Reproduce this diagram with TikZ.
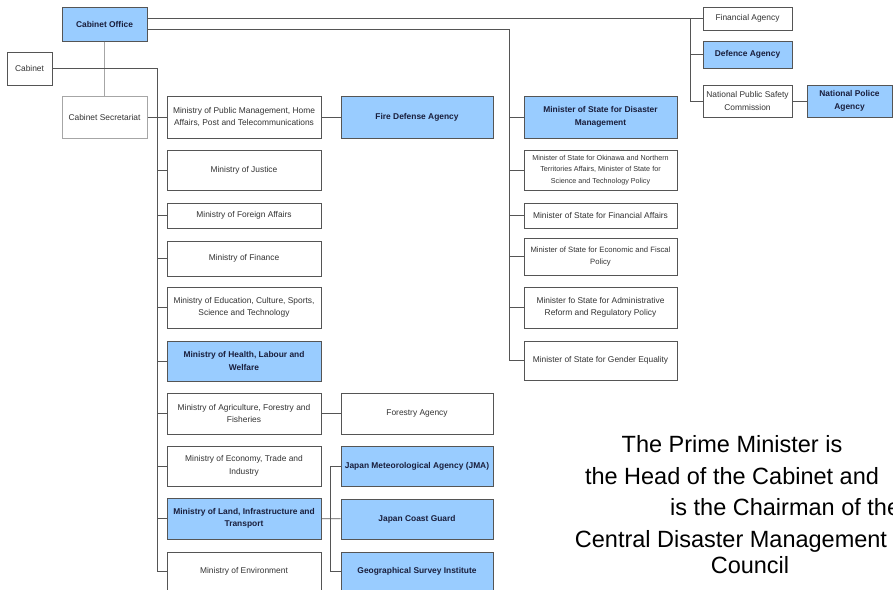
\documentclass[tikz,border=0pt]{standalone}
\usepackage{fontspec}
\setmainfont{Liberation Sans}
\definecolor{orgblue}{RGB}{153,204,255}
\definecolor{linegray}{RGB}{85,85,85}
\definecolor{boldnavy}{RGB}{25,30,60}

\begin{document}
\begin{tikzpicture}[x=1pt,y=-1pt,font=\fontsize{8.4}{12.5}\selectfont,
  box/.style={draw=linegray, line width=1pt, fill=white, align=center, inner sep=1pt, text=black!80},
  bluebox/.style={box, fill=orgblue, font=\fontsize{8.4}{12.5}\selectfont\bfseries, text=boldnavy},
  ministry/.style={minimum width=154pt},
  agency/.style={minimum width=152pt},
  minister/.style={minimum width=153pt},
  link/.style={draw=linegray, line width=0.9pt},
  note/.style={font=\fontsize{23.5}{28}\selectfont, inner sep=0pt, text=black}]

\useasboundingbox (0,0) rectangle (893,589);
\fill[white] (0,0) rectangle (893,589);

\node[bluebox, minimum width=85pt, minimum height=34pt] (office) at (104.5,24) {Cabinet Office};
\node[box, minimum width=45pt, minimum height=33pt] (cabinet) at (29.5,68.5) {Cabinet};
\node[box, draw=gray!70, minimum width=85pt, minimum height=42pt] (secretariat) at (104.5,117) {Cabinet Secretariat};

\node[box, ministry, minimum height=42pt] (pubman) at (244,117) {Ministry of Public Management, Home\\Affairs, Post and Telecommunications};
\node[box, ministry, minimum height=40pt] (justice) at (244,170) {Ministry of Justice};
\node[box, ministry, minimum height=25pt] (foreign) at (244,215.5) {Ministry of Foreign Affairs};
\node[box, ministry, minimum height=35pt] (finance) at (244,258.5) {Ministry of Finance};
\node[box, ministry, minimum height=41pt] (education) at (244,307.5) {Ministry of Education, Culture, Sports,\\Science and Technology};
\node[bluebox, ministry, minimum height=40pt] (health) at (244,361) {Ministry of Health, Labour and\\Welfare};
\node[box, ministry, minimum height=41pt] (agriculture) at (244,413.5) {Ministry of Agriculture, Forestry and\\Fisheries};
\node[box, ministry, minimum height=40pt] (economy) at (244,466) {Ministry of Economy, Trade and\\Industry};
\node[bluebox, ministry, minimum height=41pt] (land) at (244,518.5) {Ministry of Land, Infrastructure and\\Transport};
\node[box, ministry, minimum height=39pt] (environment) at (244,571.5) {Ministry of Environment};

\node[bluebox, agency, minimum height=42pt] (fire) at (417,117) {Fire Defense Agency};
\node[box, agency, minimum height=41pt] (forestry) at (417,413.5) {Forestry Agency};
\node[bluebox, agency, minimum height=40pt] (jma) at (417,466) {Japan Meteorological Agency (JMA)};
\node[bluebox, agency, minimum height=40pt] (coastguard) at (417,519) {Japan Coast Guard};
\node[bluebox, agency, minimum height=39pt] (survey) at (417,571.5) {Geographical Survey Institute};

\node[bluebox, minister, minimum height=42pt] (disaster) at (600.5,117) {Minister of State for Disaster\\Management};
\node[box, minister, minimum height=40pt, font=\fontsize{7.2}{11.5}\selectfont] (okinawa) at (600.5,170) {Minister of State for Okinawa and Northern\\Territories Affairs, Minister of State for\\Science and Technology Policy};
\node[box, minister, minimum height=25pt] (finaffairs) at (600.5,215.5) {Minister of State for Financial Affairs};
\node[box, minister, minimum height=37pt, font=\fontsize{7.7}{12.5}\selectfont] (fiscal) at (600.5,256.5) {Minister of State for Economic and Fiscal\\Policy};
\node[box, minister, minimum height=41pt] (reform) at (600.5,307.5) {Minister fo State for Administrative\\Reform and Regulatory Policy};
\node[box, minister, minimum height=39pt] (gender) at (600.5,360.5) {Minister of State for Gender Equality};

\node[box, minimum width=89pt, minimum height=23pt] (finagency) at (747.5,18.5) {Financial Agency};
\node[bluebox, minimum width=89pt, minimum height=27pt] (defence) at (747.5,54.5) {Defence Agency};
\node[box, minimum width=89pt, minimum height=32pt] (safety) at (747.5,101) {National Public Safety\\Commission};
\node[bluebox, minimum width=85pt, minimum height=32pt] (police) at (849.5,101) {National Police\\Agency};

\coordinate (mainbus) at (157,0);
\coordinate (landbus) at (330,0);
\coordinate (msbus) at (509,29);
\coordinate (agbus) at (690,0);

\draw[link, draw=gray!70] (office) -- (secretariat);
\draw[link] (cabinet.east) -- (cabinet.east -| mainbus) |- (environment.west);
\foreach \m in {pubman,justice,foreign,finance,education,health,agriculture,economy,land}
  \draw[link] (\m.west -| mainbus) -- (\m.west);
\draw[link] (secretariat.east) -- (pubman.west);

\draw[link] (pubman) -- (fire);
\draw[link] (agriculture) -- (forestry);
\draw[link] (land) -- (coastguard);
\draw[link] (jma.west -| landbus) |- (survey.west);
\draw[link] (jma.west -| landbus) -- (jma.west);

\draw[link] ([yshift=-5pt]office.east) -- (msbus) |- (gender.west);
\foreach \m in {disaster,okinawa,finaffairs,fiscal,reform}
  \draw[link] (\m.west -| msbus) -- (\m.west);

\draw[link] (finagency.west -| office.east) -- (finagency.west);
\draw[link] (finagency.west -| agbus) |- (safety.west);
\draw[link] (defence.west -| agbus) -- (defence.west);
\draw[link] (safety) -- (police);

\node[note, anchor=base] (line1) at (732,452) {The Prime Minister is};
\node[note, anchor=base] (line2) at (732,484) {the Head of the Cabinet and};
\node[note, anchor=base west] (line3) at (670,515) {is the Chairman of the};
\node[note, anchor=base] (line4) at (731,547) {Central Disaster Management};
\node[note, anchor=base] (line5) at (750,573) {Council};

\end{tikzpicture}
\end{document}
